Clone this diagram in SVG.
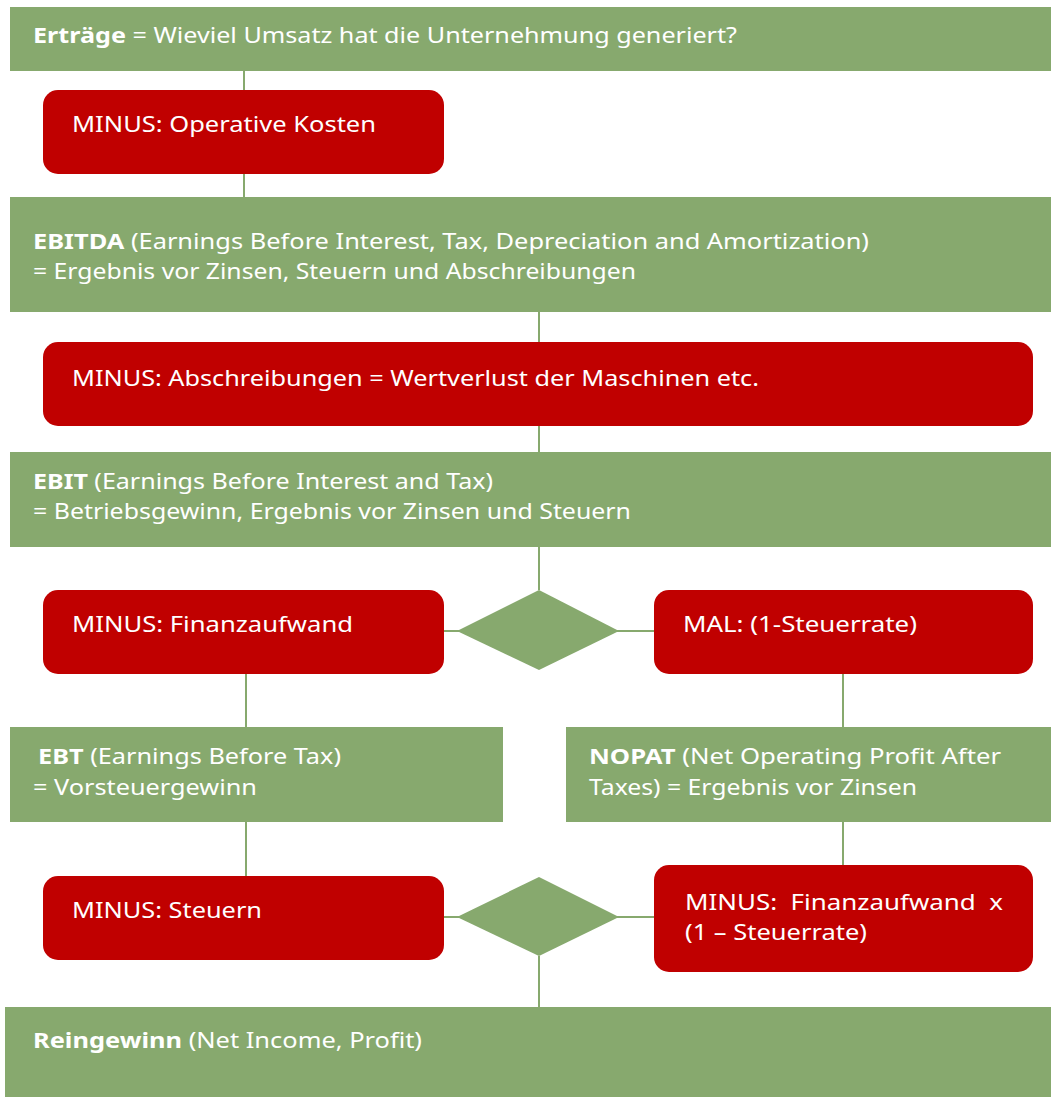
<svg xmlns="http://www.w3.org/2000/svg" width="1051" height="1097" viewBox="0 0 1051 1097">
<style>
.g{fill:#87A96E}
.r{fill:#C00000}
.c{stroke:#87A96E;stroke-width:2;fill:none}
text{font-family:"Noto Sans","Open Sans",sans-serif;font-size:22px;fill:#FFFFFF}
.b{font-weight:bold}
</style>
<rect width="1051" height="1097" fill="#FFFFFF"/>
<g id="connectors">
<line class="c" x1="244" y1="71" x2="244" y2="90"/>
<line class="c" x1="244" y1="174" x2="244" y2="197"/>
<line class="c" x1="539" y1="312" x2="539" y2="342"/>
<line class="c" x1="539" y1="426" x2="539" y2="452"/>
<line class="c" x1="539" y1="547" x2="539" y2="590"/>
<line class="c" x1="444" y1="631" x2="462" y2="631"/>
<line class="c" x1="614" y1="631" x2="654" y2="631"/>
<line class="c" x1="246" y1="674" x2="246" y2="727"/>
<line class="c" x1="843" y1="674" x2="843" y2="727"/>
<line class="c" x1="246" y1="822" x2="246" y2="876"/>
<line class="c" x1="843" y1="822" x2="843" y2="865"/>
<line class="c" x1="444" y1="917" x2="462" y2="917"/>
<line class="c" x1="614" y1="917" x2="654" y2="917"/>
<line class="c" x1="539" y1="956" x2="539" y2="1007"/>
</g>
<g id="ertraege">
<rect class="g" x="10" y="7" width="1041" height="64"/>
<text x="33" y="43" textLength="704" lengthAdjust="spacingAndGlyphs"><tspan class="b">Erträge</tspan> = Wieviel Umsatz hat die Unternehmung generiert?</text>
</g>
<g id="operative-kosten">
<rect class="r" x="43" y="90" width="401" height="84" rx="15"/>
<text x="72" y="132" textLength="304" lengthAdjust="spacingAndGlyphs">MINUS: Operative Kosten</text>
</g>
<g id="ebitda">
<rect class="g" x="10" y="197" width="1041" height="115"/>
<text x="33" y="249" textLength="836" lengthAdjust="spacingAndGlyphs"><tspan class="b">EBITDA</tspan> (Earnings Before Interest, Tax, Depreciation and Amortization)</text>
<text x="33" y="279" textLength="603" lengthAdjust="spacingAndGlyphs">= Ergebnis vor Zinsen, Steuern und Abschreibungen</text>
</g>
<g id="abschreibungen">
<rect class="r" x="43" y="342" width="990" height="84" rx="15"/>
<text x="72" y="386" textLength="687" lengthAdjust="spacingAndGlyphs">MINUS: Abschreibungen = Wertverlust der Maschinen etc.</text>
</g>
<g id="ebit">
<rect class="g" x="10" y="452" width="1041" height="95"/>
<text x="33" y="489" textLength="460" lengthAdjust="spacingAndGlyphs"><tspan class="b">EBIT</tspan> (Earnings Before Interest and Tax)</text>
<text x="33" y="519" textLength="598" lengthAdjust="spacingAndGlyphs">= Betriebsgewinn, Ergebnis vor Zinsen und Steuern</text>
</g>
<g id="decision-1">
<polygon class="g" points="539,590 619,631 539,670 457,631"/>
</g>
<g id="finanzaufwand">
<rect class="r" x="43" y="590" width="401" height="84" rx="15"/>
<text x="72" y="632" textLength="281" lengthAdjust="spacingAndGlyphs">MINUS: Finanzaufwand</text>
</g>
<g id="mal-steuerrate">
<rect class="r" x="654" y="590" width="379" height="84" rx="15"/>
<text x="683" y="632" textLength="234" lengthAdjust="spacingAndGlyphs">MAL: (1-Steuerrate)</text>
</g>
<g id="ebt">
<rect class="g" x="10" y="727" width="493" height="95"/>
<text x="38" y="764" textLength="303" lengthAdjust="spacingAndGlyphs"><tspan class="b">EBT</tspan> (Earnings Before Tax)</text>
<text x="33" y="795" textLength="224" lengthAdjust="spacingAndGlyphs">= Vorsteuergewinn</text>
</g>
<g id="nopat">
<rect class="g" x="566" y="727" width="485" height="95"/>
<text x="589" y="764" textLength="412" lengthAdjust="spacingAndGlyphs"><tspan class="b">NOPAT</tspan> (Net Operating Profit After</text>
<text x="589" y="795" textLength="328" lengthAdjust="spacingAndGlyphs">Taxes) = Ergebnis vor Zinsen</text>
</g>
<g id="decision-2">
<polygon class="g" points="539,877 619,917 539,956 457,917"/>
</g>
<g id="steuern">
<rect class="r" x="43" y="876" width="401" height="84" rx="15"/>
<text x="72" y="918" textLength="190" lengthAdjust="spacingAndGlyphs">MINUS: Steuern</text>
</g>
<g id="finanzaufwand-steuerrate">
<rect class="r" x="654" y="865" width="379" height="107" rx="15"/>
<text x="685" y="910" textLength="318" lengthAdjust="spacingAndGlyphs" xml:space="preserve">MINUS:  Finanzaufwand  x</text>
<text x="685" y="940" textLength="182" lengthAdjust="spacingAndGlyphs">(1 – Steuerrate)</text>
</g>
<g id="reingewinn">
<rect class="g" x="5" y="1007" width="1046" height="90"/>
<text x="33" y="1048" textLength="389" lengthAdjust="spacingAndGlyphs"><tspan class="b">Reingewinn</tspan> (Net Income, Profit)</text>
</g>
</svg>
